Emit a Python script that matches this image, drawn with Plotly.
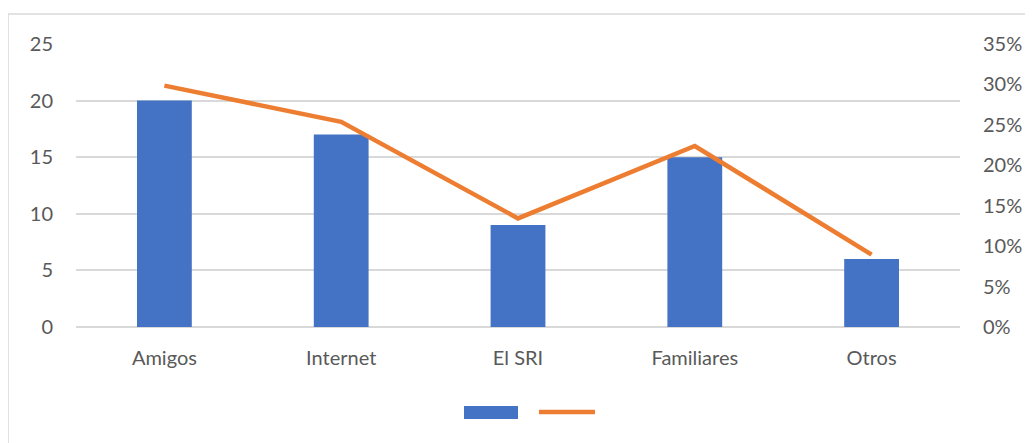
import plotly.graph_objects as go

categories = ["Amigos", "Internet", "El SRI", "Familiares", "Otros"]
counts = [20, 17, 9, 15, 6]
total = sum(counts)
shares = [c / total for c in counts]

left_ticks = [0, 5, 10, 15, 20, 25]
right_ticks = [0, 0.05, 0.10, 0.15, 0.20, 0.25, 0.30, 0.35]

BLUE = "#4472C4"
ORANGE = "#ED7D31"
FONT = "Lato, 'Open Sans', sans-serif"

# page body has an 8px margin, so the figure is drawn 8px smaller
W, H = 1025, 435
L, T, PW, PH = 68, 36, 884, 283

def px(x):
    return (x - 8 - L) / PW

def py(y):
    return 1 - (y - 8 - T) / PH

fig = go.Figure()
fig.add_trace(go.Bar(x=categories, y=counts, marker=dict(color=BLUE, line=dict(width=0)),
                     width=0.31, yaxis="y", showlegend=False))
fig.add_trace(go.Scatter(x=categories, y=shares, mode="lines", yaxis="y2",
                         line=dict(color=ORANGE, width=4.5), showlegend=False))

fig.update_layout(
    width=W, height=H,
    margin=dict(l=L, r=W - L - PW, t=T, b=H - T - PH),
    plot_bgcolor="white", paper_bgcolor="white",
    font=dict(family=FONT, size=20, color="#595959"),
    xaxis=dict(showgrid=False, showline=False, zeroline=False, ticks="",
               ticklabelstandoff=17),
    yaxis=dict(range=[0, 25], tickvals=left_ticks, showgrid=True, gridcolor="#D9D9D9",
               gridwidth=1.5, zeroline=True, zerolinecolor="#D9D9D9", zerolinewidth=1.5,
               showline=False, ticks="", ticklabelstandoff=22),
    yaxis2=dict(range=[0, 0.35], tickvals=right_ticks, tickformat=".0%", overlaying="y",
                side="right", showgrid=False, zeroline=False, showline=False, ticks="",
                ticklabelstandoff=22),
    shapes=[
        dict(type="rect", xref="paper", yref="paper", x0=px(8), x1=px(1045), y0=py(460), y1=py(14),
             line=dict(color="#D9D9D9", width=1.5), fillcolor="rgba(0,0,0,0)", layer="below"),
        dict(type="rect", xref="paper", yref="paper", x0=px(464), x1=px(518),
             y0=py(419), y1=py(406), fillcolor=BLUE, line=dict(width=0)),
        dict(type="line", xref="paper", yref="paper", x0=px(539), x1=px(595),
             y0=py(412), y1=py(412), line=dict(color=ORANGE, width=4.5)),
    ],
)

fig.write_html("out.html")
